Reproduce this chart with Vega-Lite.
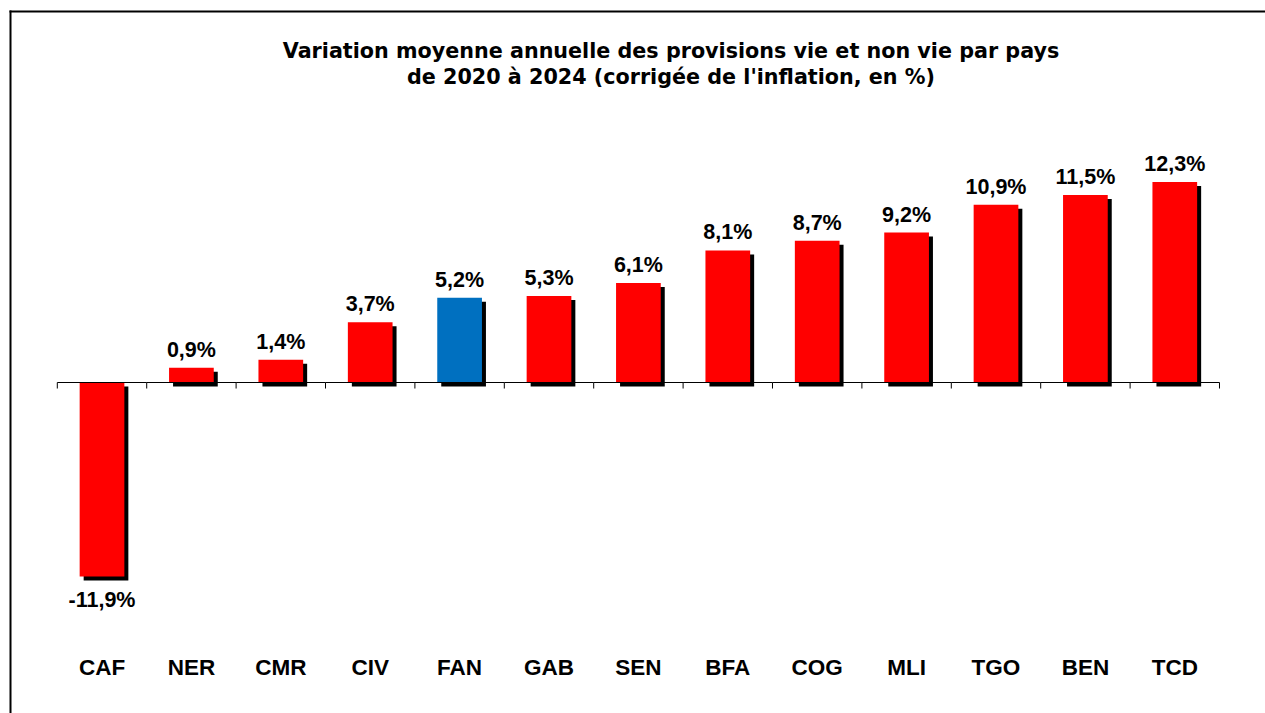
{
  "$schema": "https://vega.github.io/schema/vega-lite/v6.json",
  "width": 1255,
  "height": 702,
  "autosize": {"type": "none"},
  "padding": {"left": 10, "top": 11, "right": 0, "bottom": 0},
  "background": "white",
  "title": {
    "text": ["Variation moyenne annuelle des provisions vie et non vie par pays", "de 2020 à 2024 (corrigée de l'inflation, en %)"],
    "font": "DejaVu Sans",
    "fontSize": 20.7,
    "fontWeight": "bold",
    "color": "#000000",
    "lineHeight": 26.7,
    "anchor": "middle",
    "frame": "group",
    "baseline": "alphabetic",
    "offset": 0,
    "dx": 33.5,
    "dy": 94
  },
  "data": {
    "values": [
      {"pays": "CAF", "valeur": -11.9},
      {"pays": "NER", "valeur": 0.9},
      {"pays": "CMR", "valeur": 1.4},
      {"pays": "CIV", "valeur": 3.7},
      {"pays": "FAN", "valeur": 5.2},
      {"pays": "GAB", "valeur": 5.3},
      {"pays": "SEN", "valeur": 6.1},
      {"pays": "BFA", "valeur": 8.1},
      {"pays": "COG", "valeur": 8.7},
      {"pays": "MLI", "valeur": 9.2},
      {"pays": "TGO", "valeur": 10.9},
      {"pays": "BEN", "valeur": 11.5},
      {"pays": "TCD", "valeur": 12.3}
    ]
  },
  "transform": [
    {"calculate": "(datum.valeur < 0 ? '-' : '') + replace(format(abs(datum.valeur), '.1f'), '.', ',') + '%'", "as": "etiquette"}
  ],
  "resolve": {"axis": {"x": "independent", "y": "independent"}},
  "layer": [
    {
      "mark": {"type": "bar", "color": "#000000", "xOffset": 4, "yOffset": 4},
      "encoding": {
        "x": {
          "field": "pays", "type": "nominal", "sort": null, "title": null,
          "scale": {"paddingInner": 0.5, "paddingOuter": 0.7691, "align": 0.50655, "round": false},
          "axis": {
            "orient": "bottom", "offset": -38.5, "domain": false, "ticks": false, "grid": false,
            "labelAngle": 0, "labelBaseline": "alphabetic", "labelPadding": 0,
            "labelFont": "Liberation Sans", "labelFontSize": 22.5, "labelFontWeight": "bold", "labelColor": "#000000"
          }
        },
        "y": {
          "field": "valeur", "type": "quantitative", "title": null,
          "scale": {"domain": [-20.276, 22.791], "nice": false, "zero": false},
          "axis": {"orient": "left", "domain": true, "domainColor": "#000000", "domainWidth": 2, "domainCap": "square", "ticks": false, "labels": false, "grid": false}
        }
      }
    },
    {
      "mark": {"type": "bar"},
      "encoding": {
        "x": {
          "field": "pays", "type": "nominal", "sort": null, "title": null,
          "axis": {"orient": "top", "domain": true, "domainColor": "#000000", "domainWidth": 2, "domainCap": "square", "ticks": false, "labels": false, "grid": false}
        },
        "y": {"field": "valeur", "type": "quantitative", "title": null, "axis": null},
        "color": {
          "condition": {"test": "datum.pays === 'FAN'", "value": "#0070C0"},
          "value": "#FF0000"
        }
      }
    },
    {
      "mark": {"type": "tick", "color": "#000000", "size": 89.4, "thickness": 1, "opacity": 1},
      "encoding": {
        "x": {"field": "pays", "type": "nominal", "sort": null, "title": null, "axis": null},
        "y": {"datum": 0, "type": "quantitative", "axis": null}
      }
    },
    {
      "mark": {"type": "rule", "color": "#000000", "strokeWidth": 1},
      "encoding": {
        "x": {"field": "pays", "type": "nominal", "sort": null, "title": null, "bandPosition": -0.5, "axis": null},
        "y": {"datum": 0, "type": "quantitative", "axis": null},
        "y2": {"datum": -0.37}
      }
    },
    {
      "transform": [{"filter": "datum.pays === 'TCD'"}],
      "mark": {"type": "rule", "color": "#000000", "strokeWidth": 1},
      "encoding": {
        "x": {"field": "pays", "type": "nominal", "sort": null, "title": null, "bandPosition": 1.5, "axis": null},
        "y": {"datum": 0, "type": "quantitative", "axis": null},
        "y2": {"datum": -0.37}
      }
    },
    {
      "transform": [{"filter": "datum.valeur >= 0"}],
      "mark": {"type": "text", "font": "Liberation Sans", "fontSize": 21.5, "fontWeight": "bold", "color": "#000000", "baseline": "alphabetic", "align": "center", "dy": -11},
      "encoding": {
        "x": {"field": "pays", "type": "nominal", "sort": null, "title": null, "axis": null},
        "y": {"field": "valeur", "type": "quantitative", "axis": null},
        "text": {"field": "etiquette"}
      }
    },
    {
      "transform": [{"filter": "datum.valeur < 0"}],
      "mark": {"type": "text", "font": "Liberation Sans", "fontSize": 21.5, "fontWeight": "bold", "color": "#000000", "baseline": "alphabetic", "align": "center", "dy": 31},
      "encoding": {
        "x": {"field": "pays", "type": "nominal", "sort": null, "title": null, "axis": null},
        "y": {"field": "valeur", "type": "quantitative", "axis": null},
        "text": {"field": "etiquette"}
      }
    }
  ],
  "config": {
    "view": {"stroke": null}
  }
}
